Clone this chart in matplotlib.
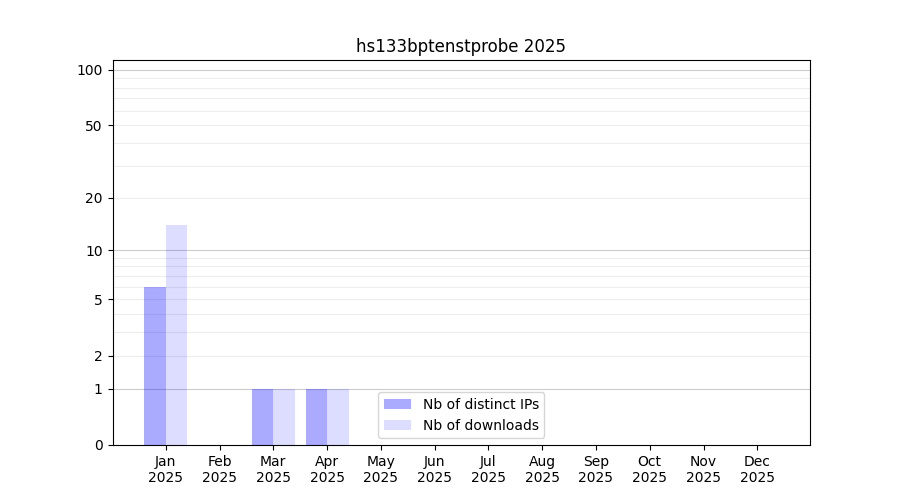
import matplotlib

matplotlib.use("Agg")
import matplotlib.pyplot as plt
import numpy as np

title = "hs133bptenstprobe 2025"
months = ["Jan", "Feb", "Mar", "Apr", "May", "Jun",
          "Jul", "Aug", "Sep", "Oct", "Nov", "Dec"]
year = 2025
distinct_ips = [6, 0, 1, 1, 0, 0, 0, 0, 0, 0, 0, 0]
downloads = [14, 0, 1, 1, 0, 0, 0, 0, 0, 0, 0, 0]

ytick_values = [0, 1, 2, 5, 10, 20, 50, 100]
major_grid = [1, 10, 100]
minor_grid = [2, 3, 4, 5, 6, 7, 8, 9, 20, 30, 40, 50, 60, 70, 80, 90]


def fwd(y):
    return np.log10(1 + np.clip(y, 0, None))


def inv(y):
    return 10 ** y - 1


fig, ax = plt.subplots(figsize=(9, 5), dpi=100)
x = np.arange(len(months))
w = 0.4
ax.bar(x - w, distinct_ips, width=w, align="edge", color="blue", alpha=1 / 3,
       label="Nb of distinct IPs")
ax.bar(x, downloads, width=w, align="edge", color="blue", alpha=0.135,
       label="Nb of downloads")

ax.set_yscale("function", functions=(fwd, inv))
ax.set_ylim(0, 113)
ax.set_xlim(-0.99, 11.98)

for v in minor_grid:
    ax.axhline(v, color="0.93", lw=0.8, zorder=0)
for v in major_grid:
    ax.axhline(v, color="0.8", lw=0.8, zorder=0)

ax.set_yticks(ytick_values)
ax.set_yticklabels([str(v) for v in ytick_values])
ax.yaxis.set_minor_locator(matplotlib.ticker.NullLocator())
ax.set_xticks(x)
ax.set_xticklabels([f"{m}\n{year}" for m in months])

ax.set_title(title)
ax.legend(loc="lower center")

fig.savefig("out.png", dpi=100)
